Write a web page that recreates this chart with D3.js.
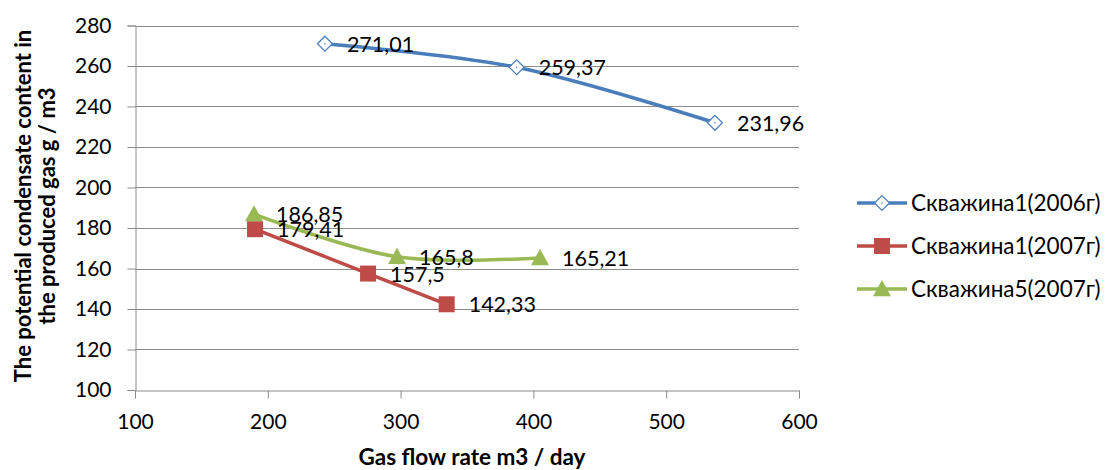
<!DOCTYPE html>
<html><head><meta charset="utf-8">
<script src="https://cdn.jsdelivr.net/npm/d3@7"></script>
<style>body{margin:0;background:#fff;} text{font-family:Lato, "Open Sans", sans-serif;}</style>
</head><body><svg id="c" width="1107" height="470"></svg>
<script>
const seriesNames = ["Скважина1(2006г)", "Скважина1(2007г)", "Скважина5(2007г)"];
const seriesColors = ["#4A7EBB", "#BE4B48", "#98B954"];
const s1x = [243, 387.4, 536.7];
const s1y = [271.01, 259.37, 231.96];
const s1lab = ["271,01", "259,37", "231,96"];
const s2x = [190.4, 275.5, 334.7];
const s2y = [179.41, 157.5, 142.33];
const s2lab = ["179,41", "157,5", "142,33"];
const s3x = [189.6, 297.3, 405];
const s3y = [186.85, 165.8, 165.21];
const s3lab = ["186,85", "165,8", "165,21"];
const xTicks = [100, 200, 300, 400, 500, 600];
const yTicks = [100, 120, 140, 160, 180, 200, 220, 240, 260, 280];
const markers = ["diamond", "square", "triangle"];

const series = [
  {x: s1x, y: s1y, lab: s1lab},
  {x: s2x, y: s2y, lab: s2lab},
  {x: s3x, y: s3y, lab: s3lab}
];

const svg = d3.select("#c");
const x = d3.scaleLinear().domain([100, 600]).range([135, 799]);
const y = d3.scaleLinear().domain([100, 280]).range([390, 25.5]);

// gridlines
svg.append("g").selectAll("line").data(yTicks.slice(1)).join("line")
  .attr("x1", 135).attr("x2", 799).attr("y1", d => Math.round(y(d)) + 0.5).attr("y2", d => Math.round(y(d)) + 0.5)
  .attr("stroke", "#8c8c8c").attr("stroke-width", 1);

// axes
const gx = svg.append("g").attr("transform", `translate(0,${Math.round(y(100)) + 0.5})`)
  .call(d3.axisBottom(x).tickValues(xTicks).tickSize(8).tickPadding(16).tickFormat(d3.format("d")));
const gy = svg.append("g").attr("transform", `translate(${Math.round(x(100)) + 0.5},0)`)
  .call(d3.axisLeft(y).tickValues(yTicks).tickSize(8).tickPadding(16).tickFormat(d3.format("d")));
[gx, gy].forEach(g => {
  g.select(".domain").attr("stroke", "#8c8c8c");
  g.selectAll(".tick line").attr("stroke", "#8c8c8c");
  g.selectAll(".tick text").attr("fill", "#000").style("font-size", "21px").style("font-family", "Lato, sans-serif");
});

const line = d3.line().curve(d3.curveCatmullRom.alpha(0.5));

function drawMarker(g, type, color, cx, cy) {
  if (type === "diamond") {
    const r = 7.5;
    g.append("path").attr("d", `M${cx - r},${cy}L${cx},${cy - r}L${cx + r},${cy}L${cx},${cy + r}Z`)
      .attr("fill", "#fff").attr("stroke", color).attr("stroke-width", 1.2);
    g.append("circle").attr("cx", cx).attr("cy", cy).attr("r", 0.8).attr("fill", color);
  } else if (type === "square") {
    const r = 8;
    g.append("rect").attr("x", cx - r).attr("y", cy - r).attr("width", 2 * r).attr("height", 2 * r)
      .attr("fill", color);
  } else {
    const r = 9;
    g.append("path").attr("d", `M${cx},${cy - r}L${cx + r},${cy + r * 0.8}L${cx - r},${cy + r * 0.8}Z`)
      .attr("fill", color);
  }
}

series.forEach((s, i) => {
  const pts = s.x.map((v, j) => [x(v), y(s.y[j])]);
  const g = svg.append("g");
  g.append("path").attr("d", line(pts)).attr("fill", "none")
    .attr("stroke", seriesColors[i]).attr("stroke-width", 3.5).attr("stroke-linecap", "round");
  pts.forEach(p => drawMarker(g, markers[i], seriesColors[i], p[0], p[1]));
});
// labels on top
series.forEach((s, i) => {
  s.x.forEach((v, j) => {
    svg.append("text").attr("x", x(v) + 22).attr("y", y(s.y[j]) + 8)
      .style("font-size", "21.5px").attr("fill", "#000").text(s.lab[j]);
  });
});

// axis titles
svg.append("text").attr("x", 472).attr("y", 465).attr("text-anchor", "middle")
  .style("font-size", "22.5px").style("font-weight", "bold").text("Gas flow rate m3 / day");
const yt = svg.append("text").attr("transform", "translate(0,206) rotate(-90)").attr("text-anchor", "middle")
  .style("font-size", "22px").style("font-weight", "bold");
yt.append("tspan").attr("x", 0).attr("y", 31).text("The potential condensate content in");
yt.append("tspan").attr("x", 0).attr("y", 55).text("the produced gas g / m3");

// legend
const legY = [203, 246, 289];
seriesNames.forEach((n, i) => {
  const g = svg.append("g");
  g.append("line").attr("x1", 857).attr("x2", 907).attr("y1", legY[i]).attr("y2", legY[i])
    .attr("stroke", seriesColors[i]).attr("stroke-width", 3.5);
  drawMarker(g, markers[i], seriesColors[i], 882, legY[i]);
  g.append("text").attr("x", 911).attr("y", legY[i] + 8).style("font-size", "22.5px").text(n);
});
</script></body></html>
